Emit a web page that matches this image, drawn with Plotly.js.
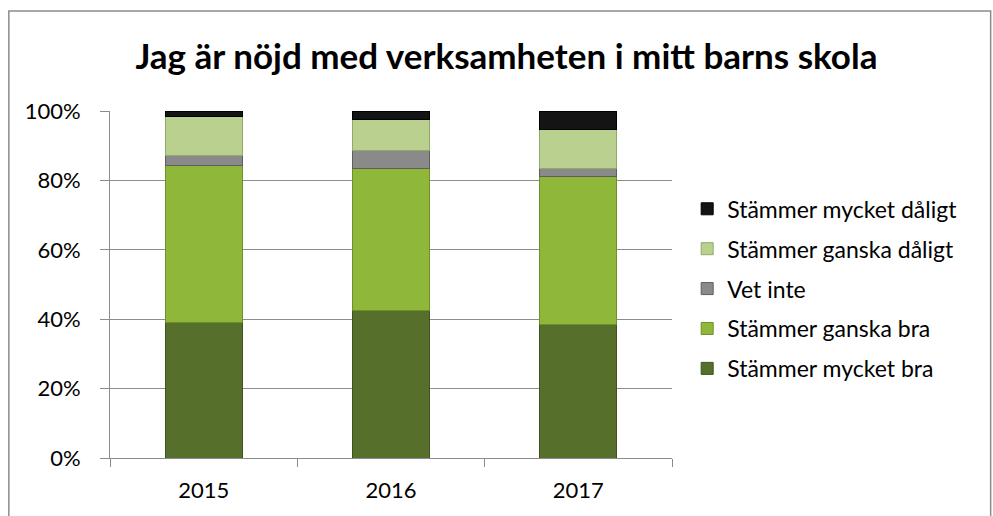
<!DOCTYPE html>
<html>
<head>
<meta charset="utf-8">
<script src="https://cdn.plot.ly/plotly-3.0.1.min.js"></script>
<style>html,body{margin:0;padding:0;background:#fff;}#chart{width:993px;height:516px;}</style>
</head>
<body>
<div id="chart"></div>
<script>
const years = ["2015", "2016", "2017"];
const seriesNames = ["Stämmer mycket bra", "Stämmer ganska bra", "Vet inte", "Stämmer ganska dåligt", "Stämmer mycket dåligt"];
const mycketBra = [39, 42.5, 38.5];
const ganskaBra = [45.3, 41, 42.5];
const vetInte = [3, 5.2, 2.5];
const ganskaDaligt = [11.2, 8.8, 11.2];
const mycketDaligt = [1.5, 2.5, 5.3];
const yTicks = [0, 20, 40, 60, 80, 100];
const yTickLabels = ["0%", "20%", "40%", "60%", "80%", "100%"];

const colors = ["#56702c", "#8fb83a", "#8a8a8a", "#b9d08f", "#141414"];
const lineColors = ["#3f5222", "#6f8f2a", "#5e5e5e", "#8fa968", "#000000"];
const values = [mycketBra, ganskaBra, vetInte, ganskaDaligt, mycketDaligt];

const font = "Lato, 'Open Sans', sans-serif";
const traces = values.map((v, i) => ({
  type: "bar",
  x: years,
  y: v,
  name: seriesNames[i],
  legendgroup: "g" + i,
  legendrank: 10 - i,
  marker: {color: colors[i], line: {color: lineColors[i], width: 1}},
  width: 0.41,
  hoverinfo: "name+y"
}));

const layout = {
  width: 993, height: 516,
  margin: {l: 110, r: 321, t: 111, b: 58, pad: 0},
  paper_bgcolor: "#ffffff", plot_bgcolor: "#ffffff",
  barmode: "stack",
  title: {text: "<b>Jag är nöjd med verksamheten i mitt barns skola</b>",
          font: {family: font, size: 35, color: "#000"},
          x: 0.51, xanchor: "center", y: 0.89, yanchor: "middle"},
  xaxis: {type: "category", showgrid: false, showline: true, linecolor: "#8c8c8c", linewidth: 1,
          ticks: "outside", ticklen: 8, tickcolor: "#8c8c8c", tickson: "boundaries",
          ticklabelstandoff: 13,
          tickfont: {family: font, size: 22, color: "#000"}, fixedrange: true},
  yaxis: {range: [0, 100], tickvals: yTicks, ticktext: yTickLabels,
          showgrid: true, gridcolor: "#8c8c8c", gridwidth: 1,
          showline: true, linecolor: "#8c8c8c", ticks: "outside", ticklen: 9, tickcolor: "#8c8c8c",
          ticklabelstandoff: 15,
          tickfont: {family: font, size: 22, color: "#000"}, zeroline: false, fixedrange: true},
  legend: {x: 1.027, xanchor: "left", y: 0.78, yanchor: "top",
           traceorder: "grouped", tracegroupgap: 7,
           font: {family: font, size: 23, color: "#000"}, itemwidth: 30,
           bgcolor: "rgba(0,0,0,0)"},
  shapes: [{type: "rect", xref: "paper", yref: "paper", x0: -0.18, x1: 1.567, y0: -0.3, y1: 1.288,
            line: {color: "#8c8c8c", width: 1.5}, fillcolor: "rgba(0,0,0,0)", layer: "below"}],
  showlegend: true
};

Plotly.newPlot("chart", traces, layout, {displayModeBar: false, staticPlot: true});
</script>
</body>
</html>
